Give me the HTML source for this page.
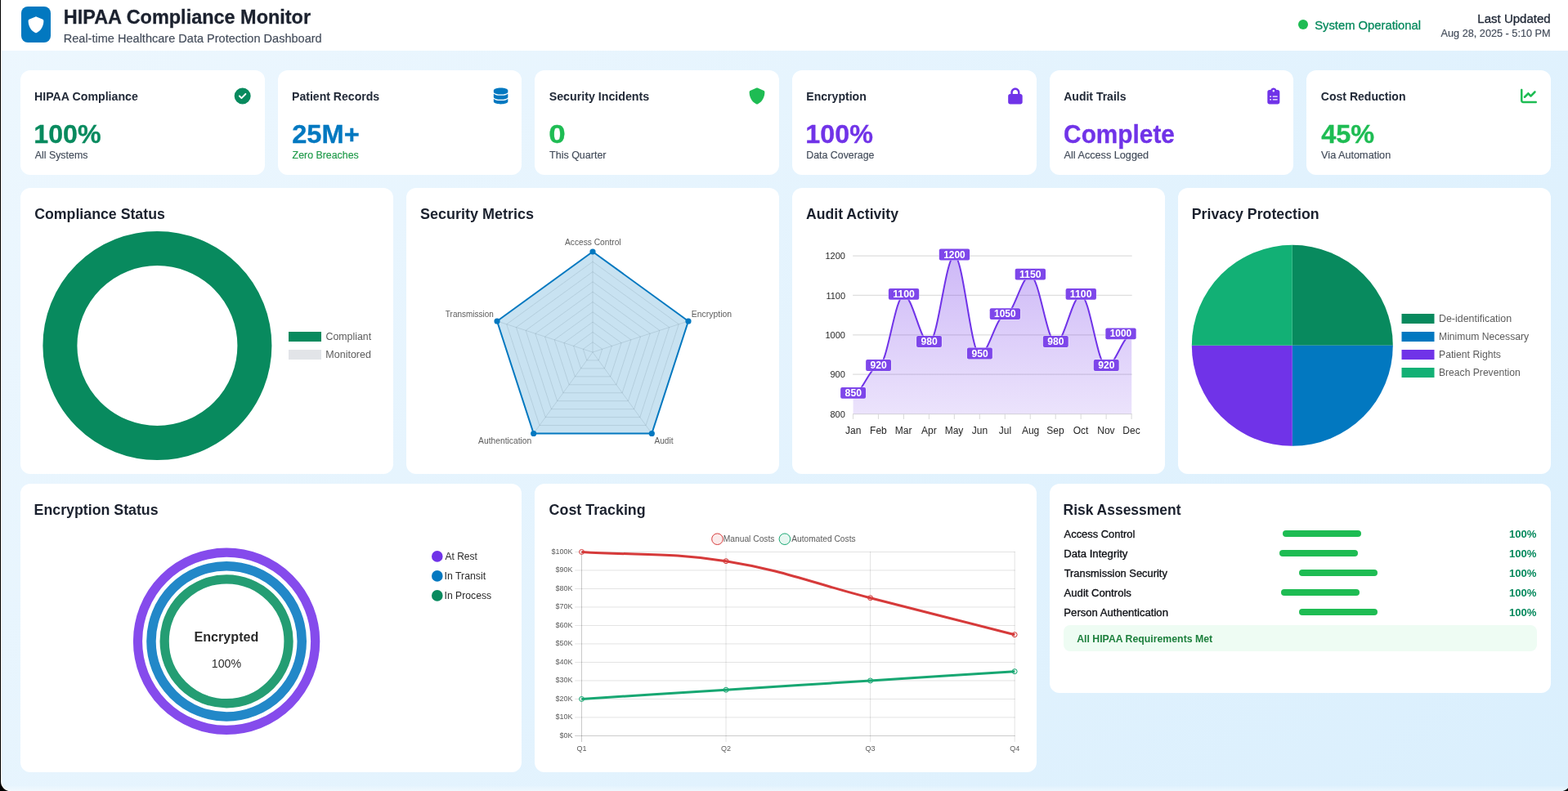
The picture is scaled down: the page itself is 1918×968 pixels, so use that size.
<!DOCTYPE html>
<html lang="en">
<head>
<meta charset="utf-8">
<title>HIPAA Compliance Monitor</title>
<style>
*{box-sizing:border-box;margin:0;padding:0}
html,body{width:1918px;height:968px;overflow:hidden;background:#000}
body{font-family:"Liberation Sans",sans-serif;position:relative}
#page{position:absolute;left:0;top:0;width:1918px;height:968px;overflow:hidden;background:#e9f5fe}
#grad{position:absolute;left:2px;top:0;width:1920px;height:968px;background:linear-gradient(135deg,#edf7fe 0%,#daeffd 100%)}
#strip{position:absolute;left:2px;top:962px;width:1916px;height:6px;background:linear-gradient(180deg,rgba(255,255,255,0.08),rgba(255,255,255,0.42))}
.hdr{position:absolute;left:1px;top:0;width:1917px;height:62px;background:#fff}
.edge{position:absolute;left:0;top:0;width:1px;height:968px;background:#000}
.edge2{position:absolute;left:1px;top:0;width:1px;height:968px;background:#fff}
.t{position:absolute;white-space:nowrap;line-height:1;transform-origin:0 0;display:block}
.ic{position:absolute;display:block}
#charts{position:absolute;left:0;top:0}
</style>
</head>
<body>
<div id="page">
<div id="grad"></div>
<div id="strip"></div>
<div class="edge2"></div>
<div class="hdr"></div>
<div style="position:absolute;left:26.00px;top:8.00px;width:36.00px;height:44.00px;background:#0278c0;border-radius:8px;"></div>
<div style="position:absolute;left:1588.00px;top:24.30px;width:12.00px;height:12.00px;background:#1ebc53;border-radius:50%;"></div>
<div style="position:absolute;left:25.00px;top:86.00px;width:298.67px;height:128.00px;background:#fff;border-radius:12px;"></div>
<div style="position:absolute;left:339.67px;top:86.00px;width:298.67px;height:128.00px;background:#fff;border-radius:12px;"></div>
<div style="position:absolute;left:654.33px;top:86.00px;width:298.67px;height:128.00px;background:#fff;border-radius:12px;"></div>
<div style="position:absolute;left:969.00px;top:86.00px;width:298.67px;height:128.00px;background:#fff;border-radius:12px;"></div>
<div style="position:absolute;left:1283.67px;top:86.00px;width:298.67px;height:128.00px;background:#fff;border-radius:12px;"></div>
<div style="position:absolute;left:1598.33px;top:86.00px;width:298.67px;height:128.00px;background:#fff;border-radius:12px;"></div>
<div style="position:absolute;left:25.00px;top:230.00px;width:456.00px;height:350.00px;background:#fff;border-radius:12px;"></div>
<div style="position:absolute;left:497.00px;top:230.00px;width:456.00px;height:350.00px;background:#fff;border-radius:12px;"></div>
<div style="position:absolute;left:969.00px;top:230.00px;width:456.00px;height:350.00px;background:#fff;border-radius:12px;"></div>
<div style="position:absolute;left:1441.00px;top:230.00px;width:456.00px;height:350.00px;background:#fff;border-radius:12px;"></div>
<div style="position:absolute;left:25.00px;top:592.00px;width:613.33px;height:353.00px;background:#fff;border-radius:12px;"></div>
<div style="position:absolute;left:654.33px;top:592.00px;width:613.34px;height:353.00px;background:#fff;border-radius:12px;"></div>
<div style="position:absolute;left:1283.67px;top:592.00px;width:613.33px;height:256.00px;background:#fff;border-radius:12px;"></div>
<div style="position:absolute;left:1569.00px;top:649.00px;width:96.00px;height:8.00px;background:#1ebc53;border-radius:4px;"></div>
<div style="position:absolute;left:1565.00px;top:673.00px;width:96.00px;height:8.00px;background:#1ebc53;border-radius:4px;"></div>
<div style="position:absolute;left:1589.00px;top:697.00px;width:96.00px;height:8.00px;background:#1ebc53;border-radius:4px;"></div>
<div style="position:absolute;left:1567.00px;top:721.00px;width:96.00px;height:8.00px;background:#1ebc53;border-radius:4px;"></div>
<div style="position:absolute;left:1589.00px;top:745.00px;width:96.00px;height:8.00px;background:#1ebc53;border-radius:4px;"></div>
<div style="position:absolute;left:1301.00px;top:765.00px;width:578.60px;height:32.30px;background:#eefcf3;border-radius:8px;"></div>
<svg id="charts" width="1918" height="968" viewBox="0 0 1918 968">
<defs><linearGradient id="gp" gradientUnits="userSpaceOnUse" x1="0" y1="313" x2="0" y2="506.6"><stop offset="0" stop-color="#7033e8" stop-opacity="0.347"/><stop offset="1" stop-color="#7033e8" stop-opacity="0.136"/></linearGradient></defs>
<path transform="translate(34.00 20.30) scale(0.039062)" fill="#ffffff" d="M256 0c4.6 0 9.2 1 13.4 2.900L457.700 82.800c22 9.300 38.400 31 38.300 57.200c-.5 99.200-41.300 280.700-213.600 363.200c-16.700 8-36.100 8-52.800 0C57.300 420.700 16.500 239.200 16 140c-.1-26.200 16.300-47.900 38.300-57.200L242.700 2.900C246.800 1 251.400 0 256 0z"/>
<path transform="translate(286.67 107.50) scale(0.039062)" fill="#088a5e" d="M256 512A256 256 0 1 0 256 0a256 256 0 1 0 0 512zM369 209L241 337c-9.400 9.400-24.600 9.400-33.900 0l-64-64c-9.400-9.400-9.400-24.600 0-33.900s24.600-9.400 33.900 0l47 47L335 175c9.400-9.400 24.600-9.400 33.900 0s9.400 24.600 0 33.900z"/>
<path transform="translate(603.83 107.50) scale(0.039062)" fill="#0278c0" d="M448 80v48c0 44.200-100.300 80-224 80S0 172.200 0 128V80C0 35.800 100.300 0 224 0S448 35.800 448 80zM393.200 214.700c20.800-7.400 39.900-16.900 54.800-28.600V288c0 44.200-100.300 80-224 80S0 332.200 0 288V186.100c14.900 11.800 34 21.200 54.800 28.600C99.700 230.700 159.500 240 224 240s124.300-9.300 169.200-25.300zM0 346.100c14.900 11.800 34 21.200 54.800 28.600C99.700 390.700 159.500 400 224 400s124.300-9.300 169.200-25.300c20.800-7.400 39.900-16.900 54.800-28.600V432c0 44.200-100.300 80-224 80S0 476.200 0 432V346.100z"/>
<path transform="translate(916.00 107.50) scale(0.039062)" fill="#1ebc53" d="M256 0c4.6 0 9.2 1 13.4 2.900L457.700 82.800c22 9.300 38.400 31 38.300 57.200c-.5 99.200-41.300 280.700-213.600 363.200c-16.700 8-36.100 8-52.800 0C57.300 420.700 16.500 239.200 16 140c-.1-26.200 16.300-47.900 38.300-57.200L242.700 2.900C246.800 1 251.400 0 256 0z"/>
<path transform="translate(1233.17 107.50) scale(0.039062)" fill="#7033e8" d="M144 144v48H304V144c0-44.200-35.800-80-80-80s-80 35.800-80 80zM80 192V144C80 64.500 144.500 0 224 0s144 64.500 144 144v48h16c35.300 0 64 28.700 64 64V448c0 35.300-28.700 64-64 64H64c-35.300 0-64-28.700-64-64V256c0-35.300 28.700-64 64-64H80z"/>
<path transform="translate(1550.33 107.50) scale(0.039062)" fill="#7033e8" d="M192 0c-41.800 0-77.400 26.700-90.500 64H64C28.700 64 0 92.700 0 128V448c0 35.300 28.700 64 64 64H320c35.300 0 64-28.700 64-64V128c0-35.300-28.700-64-64-64H282.500C269.400 26.700 233.800 0 192 0zm0 64a32 32 0 1 1 0 64 32 32 0 1 1 0-64zM72 272a24 24 0 1 1 48 0 24 24 0 1 1 -48 0zm104-16H304c8.800 0 16 7.200 16 16s-7.200 16-16 16H176c-8.800 0-16-7.200-16-16s7.200-16 16-16zM72 368a24 24 0 1 1 48 0 24 24 0 1 1 -48 0zm88 0c0-8.800 7.200-16 16-16H304c8.800 0 16 7.200 16 16s-7.200 16-16 16H176c-8.800 0-16-7.200-16-16z"/>
<path transform="translate(1860.00 107.50) scale(0.039062)" fill="#1ebc53" d="M64 64c0-17.700-14.300-32-32-32S0 46.300 0 64V400c0 44.200 35.800 80 80 80H480c17.700 0 32-14.300 32-32s-14.300-32-32-32H80c-8.800 0-16-7.200-16-16V64zm406.600 86.600c12.500-12.500 12.500-32.800 0-45.300s-32.800-12.500-45.300 0L320 210.700l-57.400-57.400c-12.500-12.500-32.800-12.500-45.300 0l-112 112c-12.500 12.500-12.500 32.800 0 45.300s32.800 12.500 45.300 0L240 221.300l57.400 57.400c12.500 12.500 32.800 12.500 45.300 0l128-128z"/>
<circle cx="192.4" cy="423" r="119" fill="none" stroke="#088a5e" stroke-width="42"/>
<rect x="353" y="406" width="40" height="12" fill="#088a5e"/>
<rect x="353" y="428" width="40" height="12" fill="#e2e4e8"/>
<line x1="725.0" y1="431.0" x2="725.00" y2="308.00" stroke="rgba(0,0,0,0.1)" stroke-width="1"/>
<line x1="725.0" y1="431.0" x2="841.98" y2="392.99" stroke="rgba(0,0,0,0.1)" stroke-width="1"/>
<line x1="725.0" y1="431.0" x2="797.30" y2="530.51" stroke="rgba(0,0,0,0.1)" stroke-width="1"/>
<line x1="725.0" y1="431.0" x2="652.70" y2="530.51" stroke="rgba(0,0,0,0.1)" stroke-width="1"/>
<line x1="725.0" y1="431.0" x2="608.02" y2="392.99" stroke="rgba(0,0,0,0.1)" stroke-width="1"/>
<polygon points="725.00,418.70 736.70,427.20 732.23,440.95 717.77,440.95 713.30,427.20" fill="none" stroke="rgba(0,0,0,0.1)" stroke-width="1"/>
<polygon points="725.00,406.40 748.40,423.40 739.46,450.90 710.54,450.90 701.60,423.40" fill="none" stroke="rgba(0,0,0,0.1)" stroke-width="1"/>
<polygon points="725.00,394.10 760.09,419.60 746.69,460.85 703.31,460.85 689.91,419.60" fill="none" stroke="rgba(0,0,0,0.1)" stroke-width="1"/>
<polygon points="725.00,381.80 771.79,415.80 753.92,470.80 696.08,470.80 678.21,415.80" fill="none" stroke="rgba(0,0,0,0.1)" stroke-width="1"/>
<polygon points="725.00,369.50 783.49,412.00 761.15,480.75 688.85,480.75 666.51,412.00" fill="none" stroke="rgba(0,0,0,0.1)" stroke-width="1"/>
<polygon points="725.00,357.20 795.19,408.19 768.38,490.71 681.62,490.71 654.81,408.19" fill="none" stroke="rgba(0,0,0,0.1)" stroke-width="1"/>
<polygon points="725.00,344.90 806.89,404.39 775.61,500.66 674.39,500.66 643.11,404.39" fill="none" stroke="rgba(0,0,0,0.1)" stroke-width="1"/>
<polygon points="725.00,332.60 818.58,400.59 782.84,510.61 667.16,510.61 631.42,400.59" fill="none" stroke="rgba(0,0,0,0.1)" stroke-width="1"/>
<polygon points="725.00,320.30 830.28,396.79 790.07,520.56 659.93,520.56 619.72,396.79" fill="none" stroke="rgba(0,0,0,0.1)" stroke-width="1"/>
<polygon points="725.00,308.00 841.98,392.99 797.30,530.51 652.70,530.51 608.02,392.99" fill="none" stroke="rgba(0,0,0,0.1)" stroke-width="1"/>
<polygon points="725.00,308.00 841.98,392.99 797.30,530.51 652.70,530.51 608.02,392.99" fill="rgba(2,120,192,0.215)" stroke="#0278c0" stroke-width="2" stroke-linejoin="round"/>
<circle cx="725.00" cy="308.00" r="3.6" fill="#0278c0"/>
<circle cx="841.98" cy="392.99" r="3.6" fill="#0278c0"/>
<circle cx="797.30" cy="530.51" r="3.6" fill="#0278c0"/>
<circle cx="652.70" cy="530.51" r="3.6" fill="#0278c0"/>
<circle cx="608.02" cy="392.99" r="3.6" fill="#0278c0"/>
<line x1="1043.1" y1="506.60" x2="1384.7" y2="506.60" stroke="#dedede" stroke-width="1.25"/>
<line x1="1043.1" y1="458.20" x2="1384.7" y2="458.20" stroke="#dedede" stroke-width="1.25"/>
<line x1="1043.1" y1="409.80" x2="1384.7" y2="409.80" stroke="#dedede" stroke-width="1.25"/>
<line x1="1043.1" y1="361.40" x2="1384.7" y2="361.40" stroke="#dedede" stroke-width="1.25"/>
<line x1="1043.1" y1="313.00" x2="1384.7" y2="313.00" stroke="#dedede" stroke-width="1.25"/>
<line x1="1043.50" y1="506.6" x2="1043.50" y2="512.9" stroke="#dcdcdc" stroke-width="1.1"/>
<line x1="1074.46" y1="506.6" x2="1074.46" y2="512.9" stroke="#dcdcdc" stroke-width="1.1"/>
<line x1="1105.43" y1="506.6" x2="1105.43" y2="512.9" stroke="#dcdcdc" stroke-width="1.1"/>
<line x1="1136.39" y1="506.6" x2="1136.39" y2="512.9" stroke="#dcdcdc" stroke-width="1.1"/>
<line x1="1167.35" y1="506.6" x2="1167.35" y2="512.9" stroke="#dcdcdc" stroke-width="1.1"/>
<line x1="1198.32" y1="506.6" x2="1198.32" y2="512.9" stroke="#dcdcdc" stroke-width="1.1"/>
<line x1="1229.28" y1="506.6" x2="1229.28" y2="512.9" stroke="#dcdcdc" stroke-width="1.1"/>
<line x1="1260.25" y1="506.6" x2="1260.25" y2="512.9" stroke="#dcdcdc" stroke-width="1.1"/>
<line x1="1291.21" y1="506.6" x2="1291.21" y2="512.9" stroke="#dcdcdc" stroke-width="1.1"/>
<line x1="1322.17" y1="506.6" x2="1322.17" y2="512.9" stroke="#dcdcdc" stroke-width="1.1"/>
<line x1="1353.14" y1="506.6" x2="1353.14" y2="512.9" stroke="#dcdcdc" stroke-width="1.1"/>
<line x1="1384.10" y1="506.6" x2="1384.10" y2="512.9" stroke="#dcdcdc" stroke-width="1.1"/>
<path d="M1043.60,482.40 C1054.44,482.40 1063.73,448.52 1074.56,448.52 C1085.40,448.52 1094.69,361.40 1105.53,361.40 C1116.36,361.40 1125.65,419.48 1136.49,419.48 C1147.33,419.48 1156.62,313.00 1167.45,313.00 C1178.29,313.00 1187.58,434.00 1198.42,434.00 C1209.26,434.00 1218.54,385.60 1229.38,385.60 C1240.22,385.60 1249.51,337.20 1260.35,337.20 C1271.18,337.20 1280.47,419.48 1291.31,419.48 C1302.15,419.48 1311.44,361.40 1322.27,361.40 C1333.11,361.40 1342.40,448.52 1353.24,448.52 C1364.07,448.52 1373.36,409.80 1384.20,409.80 L1384.2,506.6 L1043.6,506.6 Z" fill="url(#gp)"/>
<path d="M1043.60,482.40 C1054.44,482.40 1063.73,448.52 1074.56,448.52 C1085.40,448.52 1094.69,361.40 1105.53,361.40 C1116.36,361.40 1125.65,419.48 1136.49,419.48 C1147.33,419.48 1156.62,313.00 1167.45,313.00 C1178.29,313.00 1187.58,434.00 1198.42,434.00 C1209.26,434.00 1218.54,385.60 1229.38,385.60 C1240.22,385.60 1249.51,337.20 1260.35,337.20 C1271.18,337.20 1280.47,419.48 1291.31,419.48 C1302.15,419.48 1311.44,361.40 1322.27,361.40 C1333.11,361.40 1342.40,448.52 1353.24,448.52 C1364.07,448.52 1373.36,409.80 1384.20,409.80" fill="none" stroke="#7033e8" stroke-width="2"/>
<rect x="1027.65" y="473.50" width="31.9" height="14.8" rx="2.5" fill="rgba(255,255,255,0.6)"/>
<rect x="1028.15" y="474.00" width="30.9" height="13.8" rx="2" fill="rgba(112,51,232,0.9)"/>
<rect x="1058.61" y="439.62" width="31.9" height="14.8" rx="2.5" fill="rgba(255,255,255,0.6)"/>
<rect x="1059.11" y="440.12" width="30.9" height="13.8" rx="2" fill="rgba(112,51,232,0.9)"/>
<rect x="1086.38" y="352.50" width="38.3" height="14.8" rx="2.5" fill="rgba(255,255,255,0.6)"/>
<rect x="1086.88" y="353.00" width="37.3" height="13.8" rx="2" fill="rgba(112,51,232,0.9)"/>
<rect x="1120.54" y="410.58" width="31.9" height="14.8" rx="2.5" fill="rgba(255,255,255,0.6)"/>
<rect x="1121.04" y="411.08" width="30.9" height="13.8" rx="2" fill="rgba(112,51,232,0.9)"/>
<rect x="1148.30" y="304.10" width="38.3" height="14.8" rx="2.5" fill="rgba(255,255,255,0.6)"/>
<rect x="1148.80" y="304.60" width="37.3" height="13.8" rx="2" fill="rgba(112,51,232,0.9)"/>
<rect x="1182.47" y="425.10" width="31.9" height="14.8" rx="2.5" fill="rgba(255,255,255,0.6)"/>
<rect x="1182.97" y="425.60" width="30.9" height="13.8" rx="2" fill="rgba(112,51,232,0.9)"/>
<rect x="1210.23" y="376.70" width="38.3" height="14.8" rx="2.5" fill="rgba(255,255,255,0.6)"/>
<rect x="1210.73" y="377.20" width="37.3" height="13.8" rx="2" fill="rgba(112,51,232,0.9)"/>
<rect x="1241.20" y="328.30" width="38.3" height="14.8" rx="2.5" fill="rgba(255,255,255,0.6)"/>
<rect x="1241.70" y="328.80" width="37.3" height="13.8" rx="2" fill="rgba(112,51,232,0.9)"/>
<rect x="1275.36" y="410.58" width="31.9" height="14.8" rx="2.5" fill="rgba(255,255,255,0.6)"/>
<rect x="1275.86" y="411.08" width="30.9" height="13.8" rx="2" fill="rgba(112,51,232,0.9)"/>
<rect x="1303.12" y="352.50" width="38.3" height="14.8" rx="2.5" fill="rgba(255,255,255,0.6)"/>
<rect x="1303.62" y="353.00" width="37.3" height="13.8" rx="2" fill="rgba(112,51,232,0.9)"/>
<rect x="1337.29" y="439.62" width="31.9" height="14.8" rx="2.5" fill="rgba(255,255,255,0.6)"/>
<rect x="1337.79" y="440.12" width="30.9" height="13.8" rx="2" fill="rgba(112,51,232,0.9)"/>
<rect x="1351.85" y="400.90" width="38.3" height="14.8" rx="2.5" fill="rgba(255,255,255,0.6)"/>
<rect x="1352.35" y="401.40" width="37.3" height="13.8" rx="2" fill="rgba(112,51,232,0.9)"/>
<path d="M1580.8,422.8 L1580.80,299.80 A123.0,123.0 0 0 1 1703.80,422.80 Z" fill="#088a5e"/>
<path d="M1580.8,422.8 L1703.80,422.80 A123.0,123.0 0 0 1 1580.80,545.80 Z" fill="#0278c0"/>
<path d="M1580.8,422.8 L1580.80,545.80 A123.0,123.0 0 0 1 1457.80,422.80 Z" fill="#7033e8"/>
<path d="M1580.8,422.8 L1457.80,422.80 A123.0,123.0 0 0 1 1580.80,299.80 Z" fill="#12b075"/>
<rect x="1714.5" y="384" width="40" height="12" fill="#088a5e"/>
<rect x="1714.5" y="406" width="40" height="12" fill="#0278c0"/>
<rect x="1714.5" y="428" width="40" height="12" fill="#7033e8"/>
<rect x="1714.5" y="450" width="40" height="12" fill="#12b075"/>
<circle cx="277.1" cy="784.8" r="108.60" fill="none" stroke="#854bec" stroke-width="11.20"/>
<circle cx="277.1" cy="784.8" r="92.15" fill="none" stroke="#2288c8" stroke-width="11.50"/>
<circle cx="277.1" cy="784.8" r="75.95" fill="none" stroke="#249d73" stroke-width="11.30"/>
<circle cx="534.8" cy="680.90" r="6.8" fill="#7033e8"/>
<circle cx="534.8" cy="704.90" r="6.8" fill="#0278c0"/>
<circle cx="534.8" cy="728.90" r="6.8" fill="#088a5e"/>
<line x1="703.2" y1="900.45" x2="1241.65" y2="900.45" stroke="rgba(0,0,0,0.21)" stroke-width="1"/>
<line x1="703.2" y1="877.95" x2="1241.65" y2="877.95" stroke="rgba(0,0,0,0.115)" stroke-width="1"/>
<line x1="703.2" y1="855.45" x2="1241.65" y2="855.45" stroke="rgba(0,0,0,0.115)" stroke-width="1"/>
<line x1="703.2" y1="832.95" x2="1241.65" y2="832.95" stroke="rgba(0,0,0,0.115)" stroke-width="1"/>
<line x1="703.2" y1="810.45" x2="1241.65" y2="810.45" stroke="rgba(0,0,0,0.115)" stroke-width="1"/>
<line x1="703.2" y1="787.95" x2="1241.65" y2="787.95" stroke="rgba(0,0,0,0.115)" stroke-width="1"/>
<line x1="703.2" y1="765.45" x2="1241.65" y2="765.45" stroke="rgba(0,0,0,0.115)" stroke-width="1"/>
<line x1="703.2" y1="742.95" x2="1241.65" y2="742.95" stroke="rgba(0,0,0,0.115)" stroke-width="1"/>
<line x1="703.2" y1="720.45" x2="1241.65" y2="720.45" stroke="rgba(0,0,0,0.115)" stroke-width="1"/>
<line x1="703.2" y1="697.95" x2="1241.65" y2="697.95" stroke="rgba(0,0,0,0.115)" stroke-width="1"/>
<line x1="703.2" y1="675.45" x2="1241.65" y2="675.45" stroke="rgba(0,0,0,0.115)" stroke-width="1"/>
<line x1="711.50" y1="674.95" x2="711.50" y2="907.95" stroke="rgba(0,0,0,0.21)" stroke-width="1"/>
<line x1="888.05" y1="674.95" x2="888.05" y2="907.95" stroke="rgba(0,0,0,0.115)" stroke-width="1"/>
<line x1="1064.60" y1="674.95" x2="1064.60" y2="907.95" stroke="rgba(0,0,0,0.115)" stroke-width="1"/>
<line x1="1241.15" y1="674.95" x2="1241.15" y2="907.95" stroke="rgba(0,0,0,0.115)" stroke-width="1"/>
<path d="M711.50,675.45 C782.12,679.95 818.47,675.62 888.05,686.70 C959.71,698.12 993.98,713.70 1064.60,731.70 C1135.22,749.70 1170.53,758.70 1241.15,776.70" fill="none" stroke="#d63a3a" stroke-width="3"/>
<circle cx="711.50" cy="675.45" r="3" fill="rgba(214,58,58,0.1)" stroke="#d63a3a" stroke-width="1"/>
<circle cx="888.05" cy="686.70" r="3" fill="rgba(214,58,58,0.1)" stroke="#d63a3a" stroke-width="1"/>
<circle cx="1064.60" cy="731.70" r="3" fill="rgba(214,58,58,0.1)" stroke="#d63a3a" stroke-width="1"/>
<circle cx="1241.15" cy="776.70" r="3" fill="rgba(214,58,58,0.1)" stroke="#d63a3a" stroke-width="1"/>
<path d="M711.50,855.45 C782.12,850.95 817.43,848.70 888.05,844.20 C958.67,839.70 993.98,837.45 1064.60,832.95 C1135.22,828.45 1170.53,826.20 1241.15,821.70" fill="none" stroke="#17a772" stroke-width="3"/>
<circle cx="711.50" cy="855.45" r="3" fill="rgba(18,176,117,0.1)" stroke="#17a772" stroke-width="1"/>
<circle cx="888.05" cy="844.20" r="3" fill="rgba(18,176,117,0.1)" stroke="#17a772" stroke-width="1"/>
<circle cx="1064.60" cy="832.95" r="3" fill="rgba(18,176,117,0.1)" stroke="#17a772" stroke-width="1"/>
<circle cx="1241.15" cy="821.70" r="3" fill="rgba(18,176,117,0.1)" stroke="#17a772" stroke-width="1"/>
<circle cx="877.5" cy="659.7" r="6.8" fill="rgba(214,58,58,0.1)" stroke="#d63a3a" stroke-width="1"/>
<circle cx="959.9" cy="659.7" r="6.8" fill="rgba(18,176,117,0.1)" stroke="#17a772" stroke-width="1"/>
</svg>
<span class="t" style="left:77px;top:9px;font-size:24px;color:#1b212e;font-weight:bold;transform:translateX(0.83px) scaleX(0.9770);-webkit-text-stroke:0.3px #1b212e;">HIPAA Compliance Monitor</span>
<span class="t" style="left:77px;top:40px;font-size:14px;color:#434c5a;transform:translateX(0.72px) scaleX(1.0384);-webkit-text-stroke:0.15px #434c5a;">Real-time Healthcare Data Protection Dashboard</span>
<span class="t" style="left:1608px;top:24px;font-size:14px;color:#088a5e;transform:translateX(0.21px) scaleX(1.0558);-webkit-text-stroke:0.3px #088a5e;">System Operational</span>
<span class="t" style="left:1807px;top:16px;font-size:14px;color:#222a38;transform:translateX(0.36px) scaleX(1.0714);-webkit-text-stroke:0.3px #222a38;">Last Updated</span>
<span class="t" style="left:1762px;top:35px;font-size:12px;color:#434c5a;transform:translateX(0.60px) scaleX(1.0573);-webkit-text-stroke:0.15px #434c5a;">Aug 28, 2025 - 5:10 PM</span>
<span class="t" style="left:42px;top:111px;font-size:14px;color:#222a38;font-weight:bold;transform:translateX(0.00px) scaleX(1.0129);">HIPAA Compliance</span>
<span class="t" style="left:41px;top:149px;font-size:31px;color:#088a5e;font-weight:bold;transform:translateX(0.28px) scaleX(1.0379);-webkit-text-stroke:0.3px #088a5e;">100%</span>
<span class="t" style="left:42px;top:184px;font-size:12px;color:#434c5a;transform:translateX(0.71px) scaleX(1.0321);-webkit-text-stroke:0.15px #434c5a;">All Systems</span>
<span class="t" style="left:357px;top:111px;font-size:14px;color:#222a38;font-weight:bold;transform:translateX(0.00px) scaleX(1.0051);">Patient Records</span>
<span class="t" style="left:357px;top:149px;font-size:31px;color:#0278c0;font-weight:bold;transform:translateX(0.22px) scaleX(1.0525);-webkit-text-stroke:0.3px #0278c0;">25M+</span>
<span class="t" style="left:357px;top:184px;font-size:12px;color:#1f9a4a;transform:translateX(0.57px) scaleX(1.0317);-webkit-text-stroke:0.15px #1f9a4a;">Zero Breaches</span>
<span class="t" style="left:671px;top:111px;font-size:14px;color:#222a38;font-weight:bold;transform:translateX(0.65px) scaleX(1.0163);">Security Incidents</span>
<span class="t" style="left:671px;top:149px;font-size:31px;color:#1ebc53;font-weight:bold;transform:translateX(0.30px) scaleX(1.1883);-webkit-text-stroke:0.3px #1ebc53;">0</span>
<span class="t" style="left:672px;top:184px;font-size:12px;color:#434c5a;transform:translateX(0.06px) scaleX(1.0414);-webkit-text-stroke:0.15px #434c5a;">This Quarter</span>
<span class="t" style="left:986px;top:111px;font-size:14px;color:#222a38;font-weight:bold;transform:translateX(0.30px) scaleX(1.0055);">Encryption</span>
<span class="t" style="left:985px;top:149px;font-size:31px;color:#7033e8;font-weight:bold;transform:translateX(0.28px) scaleX(1.0421);-webkit-text-stroke:0.3px #7033e8;">100%</span>
<span class="t" style="left:986px;top:184px;font-size:12px;color:#434c5a;transform:translateX(0.29px) scaleX(1.0307);-webkit-text-stroke:0.15px #434c5a;">Data Coverage</span>
<span class="t" style="left:1301px;top:111px;font-size:14px;color:#222a38;font-weight:bold;transform:translateX(0.27px) scaleX(0.9992);">Audit Trails</span>
<span class="t" style="left:1301px;top:149px;font-size:31px;color:#7033e8;font-weight:bold;transform:translateX(0.11px) scaleX(0.9617);-webkit-text-stroke:0.3px #7033e8;">Complete</span>
<span class="t" style="left:1301px;top:184px;font-size:12px;color:#434c5a;transform:translateX(0.61px) scaleX(1.0545);-webkit-text-stroke:0.15px #434c5a;">All Access Logged</span>
<span class="t" style="left:1615px;top:111px;font-size:14px;color:#222a38;font-weight:bold;transform:translateX(0.85px) scaleX(1.0015);">Cost Reduction</span>
<span class="t" style="left:1616px;top:149px;font-size:31px;color:#1ebc53;font-weight:bold;transform:translateX(0.16px) scaleX(1.0475);-webkit-text-stroke:0.3px #1ebc53;">45%</span>
<span class="t" style="left:1616px;top:184px;font-size:12px;color:#434c5a;transform:translateX(0.09px) scaleX(1.0571);-webkit-text-stroke:0.15px #434c5a;">Via Automation</span>
<span class="t" style="left:42px;top:253px;font-size:18px;color:#1b212e;font-weight:bold;transform:translateX(0.20px) scaleX(0.9851);">Compliance Status</span>
<span class="t" style="left:513px;top:253px;font-size:18px;color:#1b212e;font-weight:bold;transform:translateX(0.97px) scaleX(1.0007);">Security Metrics</span>
<span class="t" style="left:985px;top:253px;font-size:18px;color:#1b212e;font-weight:bold;transform:translateX(0.98px) scaleX(0.9794);">Audit Activity</span>
<span class="t" style="left:1457px;top:253px;font-size:18px;color:#1b212e;font-weight:bold;transform:translateX(0.70px) scaleX(0.9864);">Privacy Protection</span>
<span class="t" style="left:41px;top:615px;font-size:18px;color:#1b212e;font-weight:bold;transform:translateX(0.59px) scaleX(0.9869);">Encryption Status</span>
<span class="t" style="left:671px;top:615px;font-size:18px;color:#1b212e;font-weight:bold;transform:translateX(0.60px) scaleX(0.9918);">Cost Tracking</span>
<span class="t" style="left:1300px;top:615px;font-size:18px;color:#1b212e;font-weight:bold;transform:translateX(0.52px) scaleX(0.9699);">Risk Assessment</span>
<span class="t" style="left:398px;top:406px;font-size:12px;color:#5c5c5c;transform:translateX(0.54px) scaleX(1.0281);">Compliant</span>
<span class="t" style="left:398px;top:428px;font-size:12px;color:#5c5c5c;transform:translateX(0.37px) scaleX(1.0411);">Monitored</span>
<span class="t" style="left:690px;top:292px;font-size:10px;color:#5c5c5c;transform:translateX(0.99px) scaleX(1.0208);">Access Control</span>
<span class="t" style="left:845px;top:380px;font-size:10px;color:#5c5c5c;transform:translateX(0.80px) scaleX(1.0422);">Encryption</span>
<span class="t" style="left:544px;top:380px;font-size:10px;color:#5c5c5c;transform:translateX(0.87px) scaleX(0.9962);">Transmission</span>
<span class="t" style="left:585px;top:535px;font-size:10px;color:#5c5c5c;transform:translateX(0.08px) scaleX(1.0287);">Authentication</span>
<span class="t" style="left:800px;top:535px;font-size:10px;color:#5c5c5c;transform:translateX(0.49px) scaleX(1.0061);">Audit</span>
<span class="t" style="left:1015px;top:502px;font-size:11px;color:#262626;transform:translateX(0.43px) scaleX(1.0000);">800</span>
<span class="t" style="left:1015px;top:453px;font-size:11px;color:#262626;transform:translateX(0.43px) scaleX(1.0000);">900</span>
<span class="t" style="left:1009px;top:405px;font-size:11px;color:#262626;transform:translateX(0.43px) scaleX(1.0000);">1000</span>
<span class="t" style="left:1010px;top:357px;font-size:11px;color:#262626;transform:translateX(0.39px) scaleX(1.0000);">1100</span>
<span class="t" style="left:1009px;top:308px;font-size:11px;color:#262626;transform:translateX(0.43px) scaleX(1.0000);">1200</span>
<span class="t" style="left:1033px;top:475px;font-size:12px;color:#ffffff;font-weight:bold;transform:translateX(0.61px) scaleX(1.0171);">850</span>
<span class="t" style="left:1064px;top:441px;font-size:12px;color:#ffffff;font-weight:bold;transform:translateX(0.58px) scaleX(1.0095);">920</span>
<span class="t" style="left:1092px;top:354px;font-size:12px;color:#ffffff;font-weight:bold;transform:translateX(0.13px) scaleX(1.0247);">1100</span>
<span class="t" style="left:1126px;top:412px;font-size:12px;color:#ffffff;font-weight:bold;transform:translateX(0.50px) scaleX(1.0095);">980</span>
<span class="t" style="left:1154px;top:306px;font-size:12px;color:#ffffff;font-weight:bold;transform:translateX(0.18px) scaleX(0.9936);">1200</span>
<span class="t" style="left:1188px;top:427px;font-size:12px;color:#ffffff;font-weight:bold;transform:translateX(0.43px) scaleX(1.0095);">950</span>
<span class="t" style="left:1216px;top:378px;font-size:12px;color:#ffffff;font-weight:bold;transform:translateX(0.11px) scaleX(0.9936);">1050</span>
<span class="t" style="left:1246px;top:330px;font-size:12px;color:#ffffff;font-weight:bold;transform:translateX(0.95px) scaleX(1.0247);">1150</span>
<span class="t" style="left:1281px;top:412px;font-size:12px;color:#ffffff;font-weight:bold;transform:translateX(0.32px) scaleX(1.0095);">980</span>
<span class="t" style="left:1308px;top:354px;font-size:12px;color:#ffffff;font-weight:bold;transform:translateX(0.87px) scaleX(1.0247);">1100</span>
<span class="t" style="left:1343px;top:441px;font-size:12px;color:#ffffff;font-weight:bold;transform:translateX(0.25px) scaleX(1.0095);">920</span>
<span class="t" style="left:1357px;top:402px;font-size:12px;color:#ffffff;font-weight:bold;transform:translateX(0.73px) scaleX(0.9936);">1000</span>
<span class="t" style="left:1034px;top:521px;font-size:12px;color:#262626;transform:translateX(0.01px) scaleX(1.0000);">Jan</span>
<span class="t" style="left:1064px;top:521px;font-size:12px;color:#262626;transform:translateX(0.06px) scaleX(1.0000);">Feb</span>
<span class="t" style="left:1094px;top:521px;font-size:12px;color:#262626;transform:translateX(0.76px) scaleX(1.0000);">Mar</span>
<span class="t" style="left:1127px;top:521px;font-size:12px;color:#262626;transform:translateX(0.10px) scaleX(1.0000);">Apr</span>
<span class="t" style="left:1155px;top:521px;font-size:12px;color:#262626;transform:translateX(0.68px) scaleX(1.0000);">May</span>
<span class="t" style="left:1188px;top:521px;font-size:12px;color:#262626;transform:translateX(0.83px) scaleX(1.0000);">Jun</span>
<span class="t" style="left:1221px;top:521px;font-size:12px;color:#262626;transform:translateX(0.81px) scaleX(1.0000);">Jul</span>
<span class="t" style="left:1249px;top:521px;font-size:12px;color:#262626;transform:translateX(0.92px) scaleX(1.0000);">Aug</span>
<span class="t" style="left:1280px;top:521px;font-size:12px;color:#262626;transform:translateX(0.37px) scaleX(1.0000);">Sep</span>
<span class="t" style="left:1312px;top:521px;font-size:12px;color:#262626;transform:translateX(0.77px) scaleX(1.0000);">Oct</span>
<span class="t" style="left:1342px;top:521px;font-size:12px;color:#262626;transform:translateX(0.26px) scaleX(1.0000);">Nov</span>
<span class="t" style="left:1373px;top:521px;font-size:12px;color:#262626;transform:translateX(0.35px) scaleX(1.0000);">Dec</span>
<span class="t" style="left:1759px;top:384px;font-size:12px;color:#5c5c5c;transform:translateX(0.98px) scaleX(1.0358);">De-identification</span>
<span class="t" style="left:1760px;top:406px;font-size:12px;color:#5c5c5c;transform:translateX(0.00px) scaleX(1.0132);">Minimum Necessary</span>
<span class="t" style="left:1760px;top:428px;font-size:12px;color:#5c5c5c;transform:translateX(0.00px) scaleX(1.0168);">Patient Rights</span>
<span class="t" style="left:1760px;top:450px;font-size:12px;color:#5c5c5c;transform:translateX(0.00px) scaleX(1.0099);">Breach Prevention</span>
<span class="t" style="left:237px;top:772px;font-size:16px;color:#2a2a2a;font-weight:bold;transform:translateX(0.50px) scaleX(1.0080);">Encrypted</span>
<span class="t" style="left:258px;top:805px;font-size:14px;color:#2a2a2a;transform:translateX(0.81px) scaleX(1.0134);">100%</span>
<span class="t" style="left:544px;top:675px;font-size:12px;color:#2a2a2a;transform:translateX(0.46px) scaleX(0.9996);">At Rest</span>
<span class="t" style="left:543px;top:699px;font-size:12px;color:#2a2a2a;transform:translateX(0.54px) scaleX(1.0243);">In Transit</span>
<span class="t" style="left:543px;top:723px;font-size:12px;color:#2a2a2a;transform:translateX(0.55px) scaleX(1.0161);">In Process</span>
<span class="t" style="left:684px;top:896px;font-size:9px;color:#5c5c5c;transform:translateX(0.53px) scaleX(1.0000);">$0K</span>
<span class="t" style="left:679px;top:873px;font-size:9px;color:#5c5c5c;transform:translateX(0.53px) scaleX(1.0000);">$10K</span>
<span class="t" style="left:679px;top:851px;font-size:9px;color:#5c5c5c;transform:translateX(0.53px) scaleX(1.0000);">$20K</span>
<span class="t" style="left:679px;top:828px;font-size:9px;color:#5c5c5c;transform:translateX(0.53px) scaleX(1.0000);">$30K</span>
<span class="t" style="left:679px;top:806px;font-size:9px;color:#5c5c5c;transform:translateX(0.53px) scaleX(1.0000);">$40K</span>
<span class="t" style="left:679px;top:783px;font-size:9px;color:#5c5c5c;transform:translateX(0.53px) scaleX(1.0000);">$50K</span>
<span class="t" style="left:679px;top:761px;font-size:9px;color:#5c5c5c;transform:translateX(0.53px) scaleX(1.0000);">$60K</span>
<span class="t" style="left:679px;top:738px;font-size:9px;color:#5c5c5c;transform:translateX(0.53px) scaleX(1.0000);">$70K</span>
<span class="t" style="left:679px;top:716px;font-size:9px;color:#5c5c5c;transform:translateX(0.53px) scaleX(1.0000);">$80K</span>
<span class="t" style="left:679px;top:693px;font-size:9px;color:#5c5c5c;transform:translateX(0.53px) scaleX(1.0000);">$90K</span>
<span class="t" style="left:674px;top:671px;font-size:9px;color:#5c5c5c;transform:translateX(0.53px) scaleX(1.0000);">$100K</span>
<span class="t" style="left:705px;top:912px;font-size:9px;color:#5c5c5c;transform:translateX(0.55px) scaleX(1.0000);">Q1</span>
<span class="t" style="left:882px;top:912px;font-size:9px;color:#5c5c5c;transform:translateX(0.10px) scaleX(1.0000);">Q2</span>
<span class="t" style="left:1058px;top:912px;font-size:9px;color:#5c5c5c;transform:translateX(0.61px) scaleX(1.0000);">Q3</span>
<span class="t" style="left:1235px;top:912px;font-size:9px;color:#5c5c5c;transform:translateX(0.22px) scaleX(1.0000);">Q4</span>
<span class="t" style="left:884px;top:655px;font-size:10px;color:#5c5c5c;transform:translateX(0.70px) scaleX(1.0268);">Manual Costs</span>
<span class="t" style="left:968px;top:655px;font-size:10px;color:#5c5c5c;transform:translateX(0.18px) scaleX(1.0224);">Automated Costs</span>
<span class="t" style="left:1301px;top:648px;font-size:12px;color:#0d0f14;transform:translateX(0.57px) scaleX(1.0755);-webkit-text-stroke:0.3px #0d0f14;">Access Control</span>
<span class="t" style="left:1845px;top:648px;font-size:12px;color:#088a5e;font-weight:bold;transform:translateX(0.90px) scaleX(1.0952);">100%</span>
<span class="t" style="left:1301px;top:672px;font-size:12px;color:#0d0f14;transform:translateX(0.35px) scaleX(1.0935);-webkit-text-stroke:0.3px #0d0f14;">Data Integrity</span>
<span class="t" style="left:1845px;top:672px;font-size:12px;color:#088a5e;font-weight:bold;transform:translateX(0.90px) scaleX(1.0952);">100%</span>
<span class="t" style="left:1301px;top:696px;font-size:12px;color:#0d0f14;transform:translateX(0.68px) scaleX(1.0730);-webkit-text-stroke:0.3px #0d0f14;">Transmission Security</span>
<span class="t" style="left:1845px;top:696px;font-size:12px;color:#088a5e;font-weight:bold;transform:translateX(0.90px) scaleX(1.0952);">100%</span>
<span class="t" style="left:1301px;top:720px;font-size:12px;color:#0d0f14;transform:translateX(0.57px) scaleX(1.0921);-webkit-text-stroke:0.3px #0d0f14;">Audit Controls</span>
<span class="t" style="left:1845px;top:720px;font-size:12px;color:#088a5e;font-weight:bold;transform:translateX(0.90px) scaleX(1.0952);">100%</span>
<span class="t" style="left:1301px;top:744px;font-size:12px;color:#0d0f14;transform:translateX(0.35px) scaleX(1.0927);-webkit-text-stroke:0.3px #0d0f14;">Person Authentication</span>
<span class="t" style="left:1845px;top:744px;font-size:12px;color:#088a5e;font-weight:bold;transform:translateX(0.90px) scaleX(1.0952);">100%</span>
<span class="t" style="left:1317px;top:776px;font-size:12px;color:#1c7f3c;font-weight:bold;transform:translateX(0.22px) scaleX(1.0240);">All HIPAA Requirements Met</span>
<div class="edge"></div>
<svg class="ic" style="left:0;top:948px" width="20" height="20" viewBox="0 0 20 20"><path d="M1.6 0V8.500A11.500 11.500 0 0 0 13.100 20" fill="none" stroke="#fff" stroke-width="1.2"/><path d="M0 0H1.050V8.500A11.500 11.500 0 0 0 12.550 20H0Z" fill="#000"/></svg>
<svg class="ic" style="left:1898px;top:948px" width="20" height="20" viewBox="0 0 20 20"><path d="M11.500 20A11.500 11.500 0 0 0 23 8.500V20Z" fill="#000"/></svg>
</div>
</body>
</html>
